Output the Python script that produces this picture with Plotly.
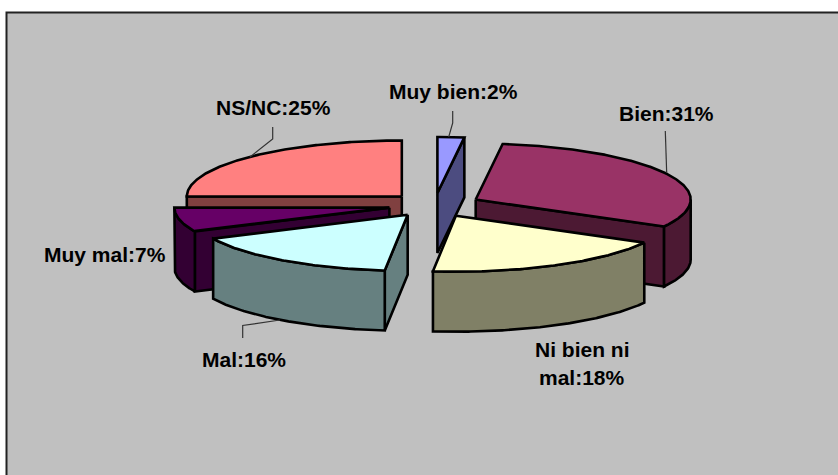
import math
import plotly.graph_objects as go

# Data
categories = ["Muy bien", "Bien", "Ni bien ni mal", "Mal", "Muy mal", "NS/NC"]
shares = [2.0, 31.0, 18.7, 16.3, 7.0, 25.0]
printed_percent = [2, 31, 18, 16, 7, 25]

# Styles
top_colors = ["#9999FF", "#993366", "#FFFFCC", "#CCFFFF", "#660066", "#FF8080"]
side_colors = ["#4C4C80", "#4C1933", "#808066", "#668080", "#330033", "#804040"]
draw_order = [5, 0, 1, 4, 2, 3]

# Pie projection (pixels of the 838x475 page)
CX, CY, RX, RY, DEPTH, EXPLODE = 434.5, 205, 215, 56, 60, 0.215
BG = "#C0C0C0"


def polar(a, apex):
    r = math.radians(a)
    return apex[0] + RX * math.sin(r), apex[1] - RY * math.cos(r)


def arc(a0, a1, apex, dy=0):
    n = max(2, int(abs(a1 - a0) * 2))
    pts = [polar(a0 + (a1 - a0) * i / n, apex) for i in range(n + 1)]
    return [(x, y + dy) for x, y in pts]


def poly(fig, pts, color):
    xs = [p[0] for p in pts] + [pts[0][0]]
    ys = [p[1] for p in pts] + [pts[0][1]]
    fig.add_trace(go.Scatter(x=xs, y=ys, mode="lines", fill="toself", fillcolor=color,
                             line=dict(color="black", width=2.6), hoverinfo="skip", showlegend=False))


fig = go.Figure()

total = sum(shares)
spans = []
acc = 0.0
for v in shares:
    a0 = acc / total * 360
    acc += v
    spans.append((a0, acc / total * 360))

for i in draw_order:
    a0, a1 = spans[i]
    mid = math.radians((a0 + a1) / 2)
    apex = (CX + EXPLODE * RX * math.sin(mid), CY - EXPLODE * RY * math.cos(mid))
    side, top = side_colors[i], top_colors[i]
    # radial faces
    if 0 < a1 < 180:
        p = polar(a1, apex)
        poly(fig, [apex, p, (p[0], p[1] + DEPTH), (apex[0], apex[1] + DEPTH)], side)
    if 180 < a0 < 360:
        p = polar(a0, apex)
        poly(fig, [apex, p, (p[0], p[1] + DEPTH), (apex[0], apex[1] + DEPTH)], side)
    # outer wall
    w0, w1 = max(a0, 90), min(a1, 270)
    if w1 > w0:
        poly(fig, arc(w0, w1, apex) + arc(w1, w0, apex, DEPTH), side)
    # top
    poly(fig, [apex] + arc(a0, a1, apex), top)

# Leader lines (layout furniture)
leaders = [
    [(452.7, 111), (452.7, 123), (448.7, 137)],
    [(665.3, 131), (666.7, 173)],
    [(272.7, 127), (272.7, 139), (250, 157)],
    [(242.7, 338), (242.7, 325.5), (280, 320)],
]
for seg in leaders:
    fig.add_trace(go.Scatter(x=[p[0] for p in seg], y=[p[1] for p in seg], mode="lines",
                             line=dict(color="#333333", width=1.2), hoverinfo="skip", showlegend=False))

# Labels
label_pos = [[(453, 91)], [(666, 113)], [(582, 349), (582, 377)], [(244, 359)], [(105, 254)], [(273, 107)]]
label_lines = [
    [f"{categories[0]}:{printed_percent[0]}%"],
    [f"{categories[1]}:{printed_percent[1]}%"],
    ["Ni bien ni", f"mal:{printed_percent[2]}%"],
    [f"{categories[3]}:{printed_percent[3]}%"],
    [f"{categories[4]}:{printed_percent[4]}%"],
    [f"{categories[5]}:{printed_percent[5]}%"],
]
for lines, pos in zip(label_lines, label_pos):
    for t, (x, y) in zip(lines, pos):
        fig.add_annotation(x=x, y=y, text=f"<b>{t}</b>", showarrow=False,
                           font=dict(family="Liberation Sans", size=21, color="black"))

fig.update_layout(
    width=838, height=475, margin=dict(l=0, r=0, t=0, b=0), autosize=False,
    paper_bgcolor="white", plot_bgcolor="white", showlegend=False,
    xaxis=dict(range=[0, 838], visible=False, fixedrange=True),
    yaxis=dict(range=[475, 0], visible=False, fixedrange=True),
    shapes=[dict(type="rect", xref="x", yref="y", x0=6.5, y0=12.5, x1=860, y1=500,
                 fillcolor=BG, line=dict(color="#222222", width=2), layer="below")],
)
fig.write_html("out.html", config={"displayModeBar": False},
               post_script="document.body.style.margin='0';")
